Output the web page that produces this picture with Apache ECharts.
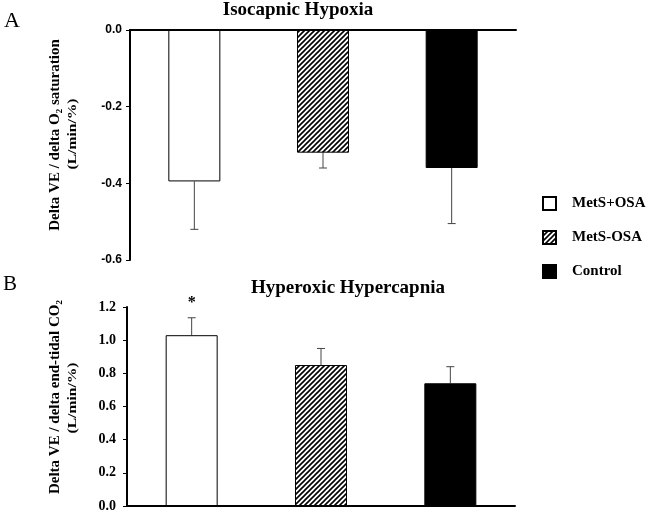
<!DOCTYPE html>
<html><head><meta charset="utf-8">
<script src="https://cdn.jsdelivr.net/npm/echarts@6/dist/echarts.min.js"></script>
<style>html,body{margin:0;padding:0;background:#fff}#c{width:646px;height:513px}</style>
</head><body><div id="c"></div>
<script>
var categories = ['MetS+OSA', 'MetS-OSA', 'Control'];
var hypoxiaMean = [-0.395, -0.32, -0.36];
var hypoxiaErrEnd = [-0.52, -0.36, -0.505];
var hypercapniaMean = [1.03, 0.85, 0.74];
var hypercapniaErrEnd = [1.135, 0.95, 0.84];
var hypercapniaSig = ['*', '', ''];
var hypoxiaTicks = [-0.6, -0.4, -0.2, 0.0];
var hypercapniaTicks = [0.0, 0.2, 0.4, 0.6, 0.8, 1.0, 1.2];

function hatch() {
  var s = 5, c = document.createElement('canvas');
  c.width = s; c.height = s;
  var g = c.getContext('2d');
  g.fillStyle = '#fff'; g.fillRect(0, 0, s, s);
  g.strokeStyle = '#000'; g.lineWidth = 1.6;
  g.beginPath();
  g.moveTo(-1, s + 1); g.lineTo(s + 1, -1);
  g.moveTo(-1, 1); g.lineTo(1, -1);
  g.moveTo(s - 1, s + 1); g.lineTo(s + 1, s - 1);
  g.stroke();
  return c;
}
var fills = ['#ffffff', { image: hatch(), repeat: 'repeat' }, '#000000'];

var chart = echarts.init(document.getElementById('c'), null, { renderer: 'canvas' });
var serif = 'Liberation Serif';

function barSeries(means, gi) {
  return categories.map(function (name, k) {
    return {
      type: 'bar', name: name, xAxisIndex: gi, yAxisIndex: gi,
      barWidth: 52, barGap: '-100%',
      itemStyle: { color: fills[k], borderColor: '#000', borderWidth: 1 },
      data: means.map(function (v, i) { return i === k ? v : '-'; }),
      animation: false
    };
  });
}
function errSeries(means, ends, sig, gi) {
  return {
    type: 'custom', xAxisIndex: gi, yAxisIndex: gi, silent: true, animation: false,
    data: means.map(function (v, i) { return [i, v, ends[i], sig ? sig[i] : '']; }),
    encode: { x: 0, y: [1, 2] },
    renderItem: function (params, api) {
      var i = api.value(0);
      var p0 = api.coord([i, api.value(1)]);
      var p1 = api.coord([i, api.value(2)]);
      var st = { stroke: '#444', lineWidth: 1 };
      var ch = [
        { type: 'line', shape: { x1: p0[0], y1: p0[1], x2: p1[0], y2: p1[1] }, style: st },
        { type: 'line', shape: { x1: p1[0] - 4, y1: p1[1], x2: p1[0] + 4, y2: p1[1] }, style: st }
      ];
      var t = sig ? sig[params.dataIndex] : '';
      if (t) ch.push({ type: 'text', x: p1[0], y: p1[1] - 15, style: { text: t, fill: '#000', font: 'bold 16px ' + serif, textAlign: 'center', textVerticalAlign: 'middle' } });
      return { type: 'group', children: ch };
    }
  };
}

var option = {
  backgroundColor: '#fff',
  animation: false,
  grid: [
    { left: 130, top: 30, width: 386, height: 230, containLabel: false },
    { left: 127, top: 307, width: 388, height: 200, containLabel: false }
  ],
  xAxis: [
    { type: 'category', gridIndex: 0, data: categories, axisLine: { onZero: true, lineStyle: { color: '#000', width: 2 } }, axisTick: { show: false }, axisLabel: { show: false }, splitLine: { show: false } },
    { type: 'category', gridIndex: 1, data: categories, axisLine: { lineStyle: { color: '#000', width: 2 } }, axisTick: { show: false }, axisLabel: { show: false }, splitLine: { show: false } }
  ],
  yAxis: [
    { type: 'value', gridIndex: 0, min: -0.6, max: 0, interval: 0.2, axisLine: { show: true, onZero: false, lineStyle: { color: '#000', width: 2 } },
      axisTick: { show: true, length: 4, lineStyle: { color: '#000', width: 1 } }, splitLine: { show: false },
      axisLabel: { margin: 8, color: '#000', fontFamily: 'Liberation Sans', fontWeight: 'bold', fontSize: 12,
        formatter: function (v) { return v.toFixed(1); } } },
    { type: 'value', gridIndex: 1, min: 0, max: 1.2, interval: 0.2, axisLine: { show: true, lineStyle: { color: '#000', width: 2 } },
      axisTick: { show: true, length: 4, lineStyle: { color: '#000', width: 1 } }, splitLine: { show: false },
      axisLabel: { margin: 11, color: '#000', fontFamily: serif, fontWeight: 'bold', fontSize: 14,
        formatter: function (v) { return v.toFixed(1); } } }
  ],
  legend: {
    data: categories, orient: 'vertical', left: 537, top: 191, itemWidth: 13, itemHeight: 13, itemGap: 19,
    icon: 'rect', selectedMode: false,
    textStyle: { color: '#000', fontFamily: serif, fontWeight: 'bold', fontSize: 15, padding: [0, 0, 0, 11] }
  },
  graphic: [
    { type: 'text', left: 4, top: 10, style: { text: 'A', font: '22px ' + serif, fill: '#000' } },
    { type: 'text', left: 3, top: 274, style: { text: 'B', font: '21px ' + serif, fill: '#000' } },
    { type: 'text', x: 298, y: 10, style: { text: 'Isocapnic Hypoxia', font: 'bold 19px ' + serif, fill: '#000', textAlign: 'center', textVerticalAlign: 'middle' } },
    { type: 'text', x: 348, y: 288, style: { text: 'Hyperoxic Hypercapnia', font: 'bold 19px ' + serif, fill: '#000', textAlign: 'center', textVerticalAlign: 'middle' } },
    { type: 'text', x: 55, y: 135, rotation: Math.PI / 2, style: { text: 'Delta VE / delta O\u2082 saturation', font: 'bold 15px ' + serif, fill: '#000', textAlign: 'center', textVerticalAlign: 'middle' } },
    { type: 'text', x: 73, y: 134, rotation: Math.PI / 2, scaleX: 1.3, style: { text: '(L/min/%)', font: 'bold 12px ' + serif, fill: '#000', textAlign: 'center', textVerticalAlign: 'middle' } },
    { type: 'text', x: 55, y: 397, rotation: Math.PI / 2, style: { text: 'Delta VE / delta end-tidal CO\u2082', font: 'bold 15px ' + serif, fill: '#000', textAlign: 'center', textVerticalAlign: 'middle' } },
    { type: 'text', x: 73, y: 398, rotation: Math.PI / 2, scaleX: 1.3, style: { text: '(L/min/%)', font: 'bold 12px ' + serif, fill: '#000', textAlign: 'center', textVerticalAlign: 'middle' } }
  ],
  series: [].concat(
    barSeries(hypoxiaMean, 0),
    [errSeries(hypoxiaMean, hypoxiaErrEnd, null, 0)],
    barSeries(hypercapniaMean, 1),
    [errSeries(hypercapniaMean, hypercapniaErrEnd, hypercapniaSig, 1)]
  )
};
chart.setOption(option);
</script></body></html>
